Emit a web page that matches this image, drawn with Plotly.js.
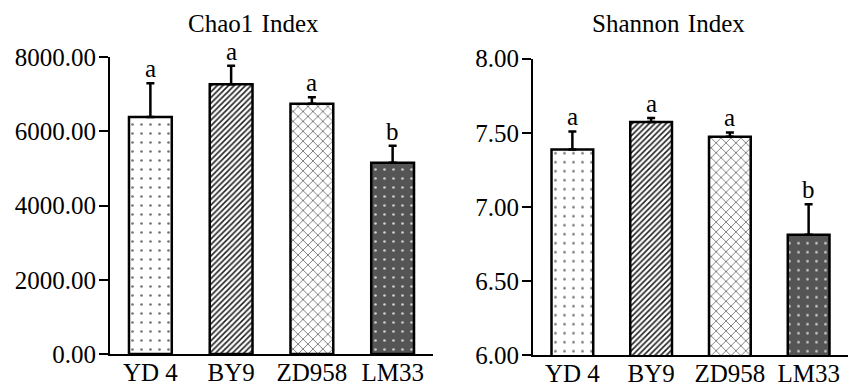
<!DOCTYPE html>
<html>
<head>
<meta charset="utf-8">
<script src="https://cdn.plot.ly/plotly-3.0.1.min.js"></script>
<style>html,body{margin:0;padding:0;background:#fff;}#chart{width:850px;height:387px;}</style>
</head>
<body>
<div id="chart"></div>
<script>
// ---- data ----
const categories = ["YD 4", "BY9", "ZD958", "LM33"];
const chao1Values = [6384, 7264, 6743, 5153];
const chao1Errors = [907, 502, 171, 458];
const chao1Letters = ["a", "a", "a", "b"];
const shannonValues = [7.387, 7.572, 7.473, 6.811];
const shannonErrors = [0.122, 0.027, 0.029, 0.207];
const shannonLetters = ["a", "a", "a", "b"];
const chao1Ticks = [0, 2000, 4000, 6000, 8000];
const shannonTicks = [6.0, 6.5, 7.0, 7.5, 8.0];
const panelTitles = ["Chao1&#8202; Index", "Shannon&#8202; Index"];

// ---- styling ----
const FONT = "Liberation Serif, Times New Roman, serif";
const patterns = [
  {shape: ".", fgcolor: "#777777", bgcolor: "#ffffff", size: 9, solidity: 0.07, fillmode: "replace"},
  {shape: "/", fgcolor: "#222222", bgcolor: "#ffffff", size: 4, solidity: 0.4, fillmode: "replace"},
  {shape: "x", fgcolor: "#666666", bgcolor: "#ffffff", size: 7, solidity: 0.22, fillmode: "replace"},
  {shape: ".", fgcolor: "#cccccc", bgcolor: "#555555", size: 9, solidity: 0.07, fillmode: "replace"}
];
const baseColors = ["#ffffff", "#ffffff", "#ffffff", "#555555"];

function barTraces(values, errors, xa, ya) {
  return categories.map((c, i) => ({
    type: "bar",
    x: [c],
    y: [values[i]],
    xaxis: xa, yaxis: ya,
    width: 0.53,
    marker: {color: baseColors[i], line: {color: "#000", width: 2.5}, pattern: patterns[i]},
    error_y: {type: "data", symmetric: false, array: [errors[i]], arrayminus: [0],
              color: "#000", thickness: 2.5, width: 4},
    showlegend: false,
    hoverinfo: "skip"
  }));
}

const data = [].concat(
  barTraces(chao1Values, chao1Errors, "x", "y"),
  barTraces(shannonValues, shannonErrors, "x2", "y2")
);

const annotations = [];
categories.forEach((c, i) => {
  annotations.push({xref: "x", yref: "y", x: c, y: chao1Values[i] + chao1Errors[i],
    text: chao1Letters[i], showarrow: false, yanchor: "bottom", yshift: -1,
    font: {family: FONT, size: 25, color: "#000"}});
  annotations.push({xref: "x2", yref: "y2", x: c, y: shannonValues[i] + shannonErrors[i],
    text: shannonLetters[i], showarrow: false, yanchor: "bottom", yshift: -1,
    font: {family: FONT, size: 25, color: "#000"}});
});
annotations.push({xref: "paper", yref: "paper", x: 253/850, y: (387-23)/387, xanchor: "center", yanchor: "middle",
  text: panelTitles[0], showarrow: false, font: {family: FONT, size: 25, color: "#000"}});
annotations.push({xref: "paper", yref: "paper", x: 668/850, y: (387-23)/387, xanchor: "center", yanchor: "middle",
  text: panelTitles[1], showarrow: false, font: {family: FONT, size: 25, color: "#000"}});

const yCommon = {
  showline: true, linecolor: "#000", linewidth: 2,
  ticks: "outside", ticklen: 9, tickwidth: 2, tickcolor: "#000",
  showgrid: false, zeroline: false,
  ticklabelstandoff: -2,
  tickfont: {family: FONT, size: 25, color: "#000"},
  tickformat: ".2f", fixedrange: true
};
const xCommon = {
  type: "category", showline: true, linecolor: "#000", linewidth: 2,
  ticks: "", showgrid: false, zeroline: false, range: [-0.5, 3.5],
  ticklabelstandoff: -5,
  tickfont: {family: FONT, size: 25, color: "#000"}, fixedrange: true
};

const layout = {
  width: 850, height: 387,
  margin: {l: 0, r: 0, t: 0, b: 0},
  paper_bgcolor: "#fff", plot_bgcolor: "rgba(0,0,0,0)",
  barmode: "overlay",
  xaxis: Object.assign({}, xCommon, {domain: [110/850, 433/850], anchor: "y"}),
  yaxis: Object.assign({}, yCommon, {domain: [(387-354)/387, (387-57)/387], range: [0, 8000],
    tickvals: chao1Ticks, anchor: "x"}),
  xaxis2: Object.assign({}, xCommon, {domain: [533/850, 848/850], anchor: "y2"}),
  yaxis2: Object.assign({}, yCommon, {domain: [(387-355)/387, (387-58.7)/387], range: [6, 8],
    tickvals: shannonTicks, anchor: "x2"}),
  annotations: annotations,
  font: {family: FONT, color: "#000"}
};

Plotly.newPlot("chart", data, layout, {displayModeBar: false, staticPlot: true});
</script>
</body>
</html>
